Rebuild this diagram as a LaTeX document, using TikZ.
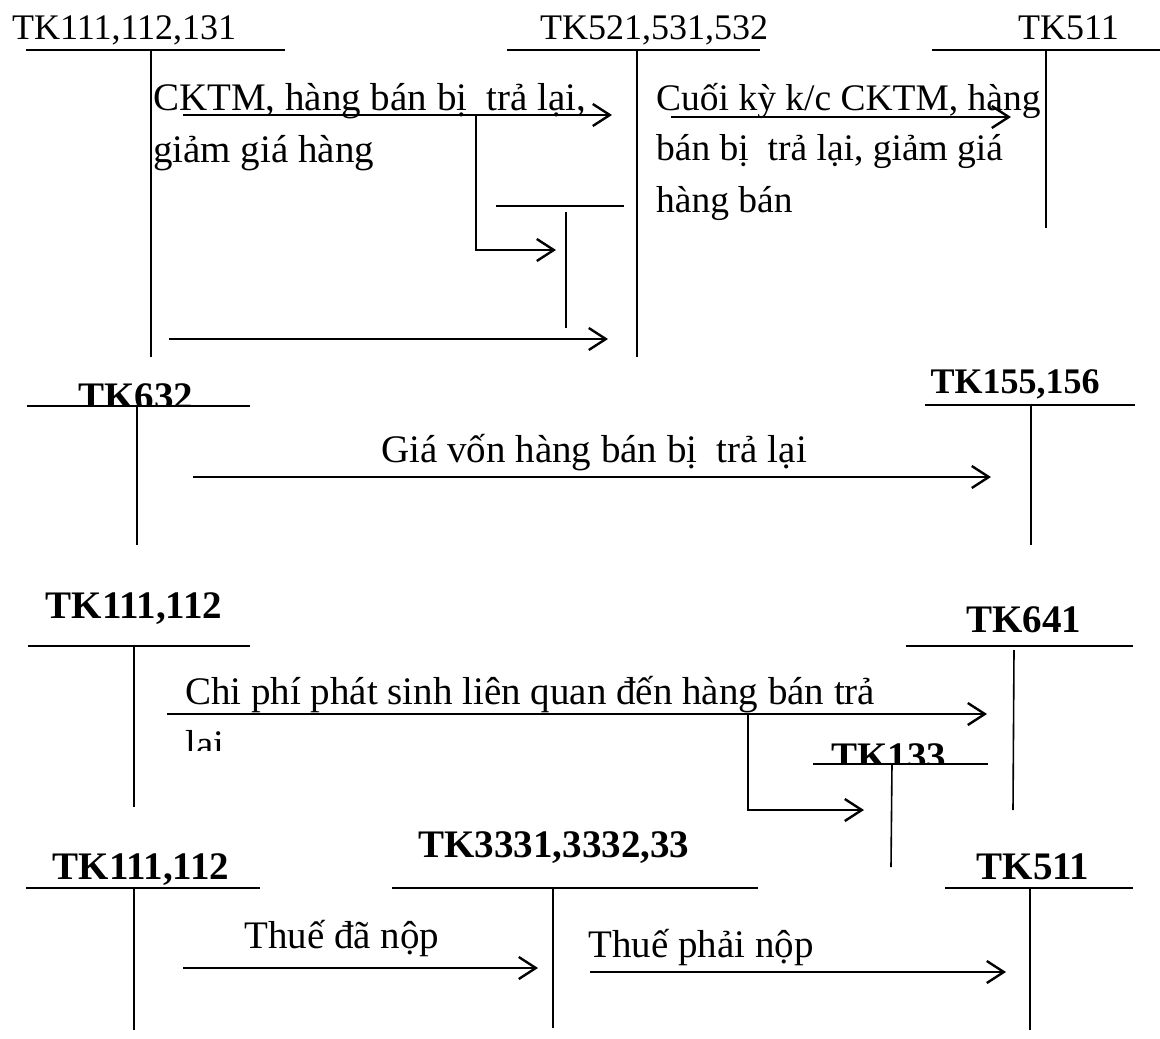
\documentclass[tikz,border=0pt]{standalone}
\usepackage{fontspec}
\setmainfont{Liberation Serif}
\usetikzlibrary{arrows.meta}
\begin{document}
\begin{tikzpicture}[x=1pt,y=-1pt,
  hline/.style={line width=2.2pt},
  vline/.style={line width=1.6pt},
  flow/.style={line width=2.4pt,-{Straight Barb[length=17pt,width=22pt,line width=2.4pt]}},
  branch/.style={line width=2.4pt,-{Straight Barb[length=17pt,width=22pt,line width=2.4pt]}},
  acct/.style={font=\fontsize{36}{40}\selectfont,inner sep=0pt,anchor=base west},
  bacct/.style={font=\fontsize{39}{44}\selectfont\bfseries,inner sep=0pt,anchor=base},
  tacct/.style={font=\fontsize{36}{40}\selectfont\bfseries,inner sep=0pt,anchor=base},
  body/.style={font=\fontsize{39}{44}\selectfont,inner sep=0pt,anchor=base west},
  bodys/.style={font=\fontsize{37.5}{44}\selectfont,inner sep=0pt,anchor=base west}
]
\useasboundingbox (0,0) rectangle (1160,1039);

% ---------- Section 1 ----------
\node[acct] (t1) at (12,39) {TK111,112,131};
\node[acct] (t2) at (540,39) {TK521,531,532};
\node[acct] (t3) at (1018,39) {TK511};
\draw[hline] (26,50) -- (285,50);
\draw[vline] (151,50) -- (151,357);
\draw[hline] (507,50) -- (760,50);
\draw[vline] (637,50) -- (637,357);
\draw[hline] (932,50) -- (1160,50);
\draw[vline] (1046,50) -- (1046,228);
% small unlabeled account
\draw[hline] (496,206) -- (624,206);
\draw[vline] (566,212) -- (566,328);

\node[body] (c1) at (153,110) {CKTM, hàng bán bị\ \ trả lại,};
\node[body] (c2) at (153,162) {giảm giá hàng};
\coordinate (a1s) at (183,115);
\coordinate (a1e) at (612,115);
\coordinate (a1b) at (476,115);
\coordinate (a1t) at (556,250);
\draw[flow] (a1s) -- (a1e);
\draw[branch] (a1b) |- (a1t);
\coordinate (a2s) at (169,339);
\coordinate (a2e) at (608,339);
\draw[flow] (a2s) -- (a2e);

\node[bodys] (k1) at (656,110) {Cuối kỳ k/c CKTM, hàng};
\node[bodys] (k2) at (656,160) {bán bị\ \ trả lại, giảm giá};
\node[bodys] (k3) at (656,212) {hàng bán};
\coordinate (a3s) at (671,117);
\coordinate (a3e) at (1011,117);
\draw[flow] (a3s) -- (a3e);

% ---------- Section 2 ----------
\begin{scope}
  \clip (0,300) rectangle (400,406);
  \node[bacct] (t632) at (136,409) {TK632};
\end{scope}
\draw[hline] (27,406) -- (250,406);
\draw[vline] (137,406) -- (137,545);
\node[tacct] (t155) at (1015,393) {TK155,156};
\draw[hline] (925,405) -- (1135,405);
\draw[vline] (1031,405) -- (1031,545);
\node[body] (g1) at (381,462) {Giá vốn hàng bán bị\ \ trả lại};
\coordinate (a4s) at (193,477);
\coordinate (a4e) at (991,477);
\draw[flow] (a4s) -- (a4e);

% ---------- Section 3 ----------
\node[bacct] (t111b) at (134,618) {TK111,112};
\draw[hline] (28,646) -- (250,646);
\draw[vline] (134,646) -- (134,807);
\node[bacct] (t641) at (1024,632) {TK641};
\draw[hline] (906,646) -- (1133,646);
\draw[vline] (1014,650) -- (1013,810);
\node[body] (p1) at (185,704) {Chi phí phát sinh liên quan đến hàng bán trả};
\begin{scope}
  \clip (150,700) rectangle (400,750);
  \node[body] (p2) at (185,757) {lại};
\end{scope}
\coordinate (a5s) at (167,714);
\coordinate (a5e) at (987,714);
\coordinate (a5b) at (748,714);
\coordinate (a5t) at (864,810);
\draw[flow] (a5s) -- (a5e);
\draw[branch] (a5b) |- (a5t);
\begin{scope}
  \clip (780,700) rectangle (1000,764);
  \node[bacct] (t133) at (889,769) {TK133};
\end{scope}
\draw[hline] (813,764) -- (988,764);
\draw[vline] (892,764) -- (891,867);

% ---------- Section 4 ----------
\node[bacct] (t111c) at (141,879) {TK111,112};
\draw[hline] (26,888) -- (260,888);
\draw[vline] (134,888) -- (134,1030);
\node[bacct] (t3331) at (554,857) {TK3331,3332,33};
\draw[hline] (392,888) -- (758,888);
\draw[vline] (553,888) -- (553,1028);
\node[bacct] (t511b) at (1033,879) {TK511};
\draw[hline] (945,888) -- (1133,888);
\draw[vline] (1030,888) -- (1030,1030);
\node[body] (n1) at (244,948) {Thuế đã nộp};
\coordinate (a6s) at (183,968);
\coordinate (a6e) at (538,968);
\draw[flow] (a6s) -- (a6e);
\node[body] (n2) at (588,957) {Thuế phải nộp};
\coordinate (a7s) at (590,972);
\coordinate (a7e) at (1006,972);
\draw[flow] (a7s) -- (a7e);
\end{tikzpicture}
\end{document}
